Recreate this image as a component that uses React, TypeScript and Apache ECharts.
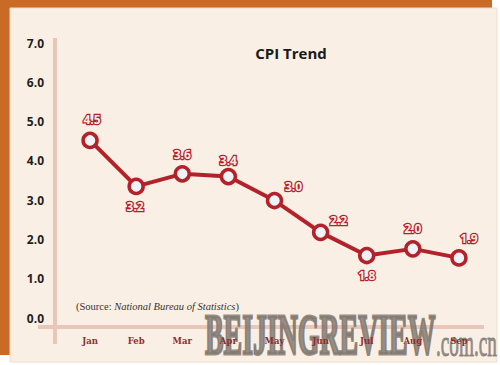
import React, { useEffect, useRef } from "react";
import * as echarts from "echarts";

const months = ["Jan", "Feb", "Mar", "Apr", "May", "Jun", "Jul", "Aug", "Sep"];
const cpiPlotted = [4.52, 3.35, 3.67, 3.6, 2.99, 2.18, 1.59, 1.76, 1.53];
const cpiLabels = ["4.5", "3.2", "3.6", "3.4", "3.0", "2.2", "1.8", "2.0", "1.9"];
const yMin = 0;
const yMax = 7;
const yInterval = 1;
const titleText = "CPI Trend";
const sourcePrefix = "(Source: ";
const sourceName = "National Bureau of Statistics";
const sourceSuffix = ")";

export default function App() {
  const ref = useRef<HTMLDivElement>(null);
  useEffect(() => {
    if (!ref.current) return;
    const chart = echarts.init(ref.current, undefined, { renderer: "svg" });
    const offsets: number[][] = [
      [2, -21],
      [-1, 20],
      [0, -19],
      [0, -16],
      [19, -14],
      [18, -12],
      [0, 20],
      [0, -20],
      [10, -19],
    ];
    const red = "#b3222a";
    const wm = "rgba(128,119,112,0.82)";
    const option: any = {
      animation: false,
      backgroundColor: "#ffffff",
      grid: { left: 67, right: 18, top: 43, bottom: 47, containLabel: false },
      graphic: [
        { type: "rect", z: 0, shape: { x: 0, y: 0, width: 492, height: 9 }, style: { fill: "#c96a27" } },
        { type: "rect", z: 0, shape: { x: 0, y: 0, width: 10, height: 355 }, style: { fill: "#c96a27" } },
        {
          type: "rect",
          z: 0,
          shape: { x: 10, y: 8, width: 487, height: 354 },
          style: { fill: "#f9efe4", stroke: "#f1dccb", lineWidth: 1 },
        },
        { type: "line", z: 1, shape: { x1: 38, y1: 327, x2: 484, y2: 327 }, style: { stroke: "#e9c7b8", lineWidth: 4 } },
        { type: "line", z: 1, shape: { x1: 55, y1: 38, x2: 55, y2: 344 }, style: { stroke: "#e9c7b8", lineWidth: 4 } },
        {
          type: "text",
          z: 1,
          x: 205,
          y: 363,
          scaleX: 0.48,
          style: {
            text: "BEIJINGREVIEW",
            fontFamily: "Liberation Serif",
            fontWeight: "bold",
            fontSize: 58,
            fill: wm,
            stroke: wm,
            lineWidth: 3,
            verticalAlign: "bottom",
          },
        },
        {
          type: "text",
          z: 1,
          x: 436,
          y: 362,
          scaleX: 0.52,
          style: {
            text: ".com.cn",
            fontFamily: "Liberation Serif",
            fontSize: 37,
            fill: wm,
            stroke: wm,
            lineWidth: 1,
            verticalAlign: "bottom",
          },
        },
        {
          type: "text",
          z: 3,
          x: 291,
          y: 53,
          style: {
            text: titleText,
            fontFamily: "Open Sans",
            fontWeight: "bold",
            fontSize: 15,
            fill: "#1a1a1a",
            align: "center",
            verticalAlign: "middle",
          },
        },
        {
          type: "text",
          z: 3,
          x: 76,
          y: 306,
          style: {
            text: "{n|" + sourcePrefix + "}{i|" + sourceName + "}{n|" + sourceSuffix + "}",
            verticalAlign: "middle",
            rich: {
              n: { fontFamily: "Liberation Serif", fontSize: 10.5, fill: "#3a3230", color: "#3a3230" },
              i: { fontFamily: "Liberation Serif", fontStyle: "italic", fontSize: 10.5, fill: "#3a3230", color: "#3a3230" },
            },
          },
        },
      ],
      xAxis: {
        type: "category",
        data: months,
        boundaryGap: true,
        offset: 9,
        axisLine: { show: false },
        axisTick: { show: false },
        axisLabel: {
          margin: 9,
          fontFamily: "DejaVu Serif",
          fontWeight: "bold",
          fontSize: 8.5,
          color: "#9a2a2a",
        },
        z: 5,
      },
      yAxis: {
        type: "value",
        min: yMin,
        max: yMax,
        interval: yInterval,
        axisLine: { show: false },
        axisTick: { show: false },
        splitLine: { show: false },
        axisLabel: {
          margin: 23,
          fontFamily: "Open Sans",
          fontWeight: "bold",
          fontSize: 12,
          color: "#1e1e1e",
          formatter: (v: number) => v.toFixed(1),
        },
      },
      series: [
        {
          type: "line",
          z: 4,
          data: cpiPlotted.map((v, i) => ({
            value: v,
            label: { offset: offsets[i] },
          })),
          lineStyle: { color: red, width: 4 },
          itemStyle: { color: "#eef3f6", borderColor: red, borderWidth: 3.5 },
          symbol: "circle",
          symbolSize: 14,
          showAllSymbol: true,
          label: {
            show: true,
            position: "inside",
            align: "center",
            verticalAlign: "middle",
            formatter: (p: any) => cpiLabels[p.dataIndex],
            fontFamily: "Open Sans",
            fontWeight: "bold",
            fontSize: 12,
            color: "#fbeeea",
            textBorderColor: "#b51f28",
            textBorderWidth: 2.5,
          },
        },
      ],
    };
    chart.setOption(option);
    return () => chart.dispose();
  }, []);
  return (
    <div
      ref={ref}
      style={{ position: "fixed", left: 0, top: 0, width: 500, height: 365 }}
    />
  );
}
